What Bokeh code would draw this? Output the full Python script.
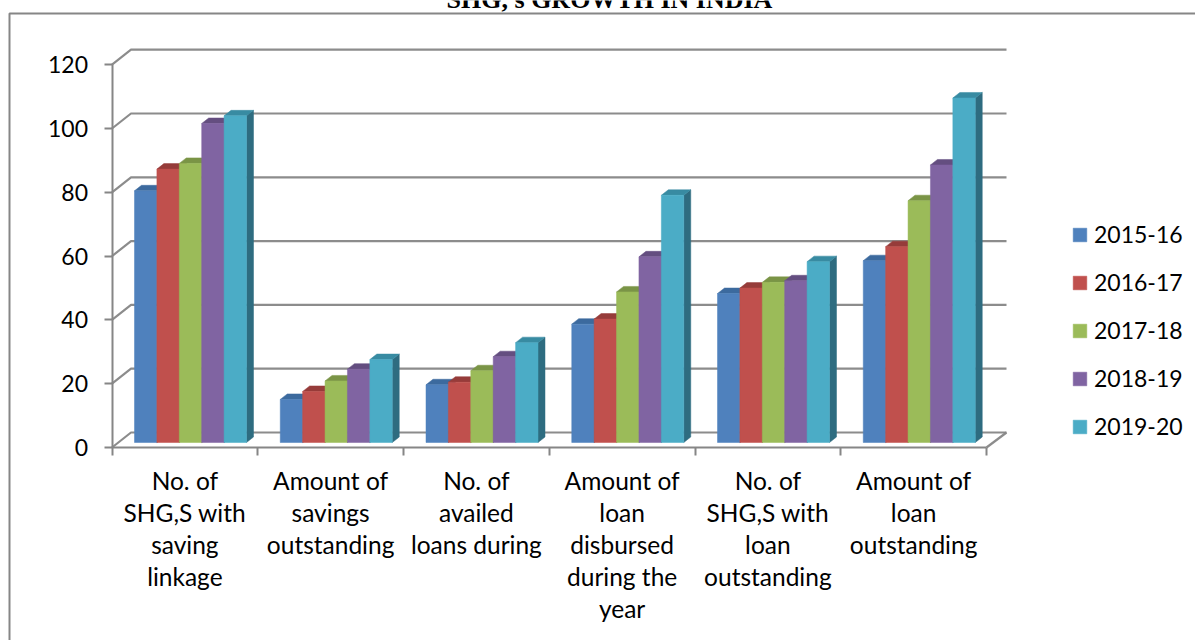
from bokeh.plotting import figure
from bokeh.embed import file_html
from bokeh.resources import INLINE
from bokeh.models import (FixedTicker, Legend, LegendItem, Label,
                          BoxAnnotation, Range1d, LinearAxis)

categories = ["No. of\nSHG,S with\nsaving\nlinkage", "Amount of\nsavings\noutstanding",
              "No. of\navailed\nloans during", "Amount of\nloan\ndisbursed\nduring the\nyear",
              "No. of\nSHG,S with\nloan\noutstanding", "Amount of\nloan\noutstanding"]
y_ticks = [0, 20, 40, 60, 80, 100, 120]
s2015 = [78.9, 13.5, 18.1, 37.1, 46.7, 57.0]
s2016 = [85.7, 16.0, 18.9, 38.7, 48.4, 61.4]
s2017 = [87.5, 19.3, 22.5, 47.2, 50.2, 75.8]
s2018 = [100.0, 23.0, 26.9, 58.2, 50.7, 87.0]
s2019 = [102.4, 26.0, 31.3, 77.5, 56.7, 108.0]
series = [("2015-16", s2015, "#4F81BD", "#3C6A9E", "#2F5A88"),
          ("2016-17", s2016, "#C0504D", "#963C3A", "#80302E"),
          ("2017-18", s2017, "#9BBB59", "#7A9446", "#667C3A"),
          ("2018-19", s2018, "#8064A2", "#644E80", "#52406A"),
          ("2019-20", s2019, "#4BACC6", "#388BA2", "#2E6C80")]

W, H = 1195, 640
X0, Y0 = 111.5, 447                      # canvas pixel of the axes' origin
PX = 145.75                              # pixels per category
PY = 3.19                                # pixels per value unit
GRAY = "#868686"
FONT = "Lato"
FS = "24.5px"

p = figure(width=W, height=H, output_backend="svg", toolbar_location=None,
           x_range=Range1d(-X0 / PX, (W - X0) / PX), y_range=Range1d(-(H - Y0) / PY, Y0 / PY),
           x_axis_type=None, y_axis_type=None,
           min_border=0, outline_line_color=None, background_fill_color="white",
           border_fill_color="white")
p.grid.visible = False

# axes
ya = LinearAxis(fixed_location=0)
ya.ticker = FixedTicker(ticks=y_ticks)
ya.bounds = (0, 120)
ya.axis_line_color = GRAY; ya.axis_line_width = 2
ya.major_tick_line_color = GRAY; ya.major_tick_line_width = 2
ya.major_tick_out = 8; ya.major_tick_in = 0
ya.minor_tick_line_color = None
ya.major_label_text_font = FONT; ya.major_label_text_font_size = "23px"
ya.major_label_text_color = "black"; ya.major_label_standoff = 16
p.add_layout(ya, "left")

xa = LinearAxis(fixed_location=0)
centers = [i + 0.5 for i in range(len(categories))]
xa.ticker = FixedTicker(ticks=centers, minor_ticks=list(range(len(categories) + 1)))
xa.major_label_overrides = {c: t for c, t in zip(centers, categories)}
xa.bounds = (0, len(categories))
xa.axis_line_color = GRAY; xa.axis_line_width = 2
xa.major_tick_line_color = None
xa.minor_tick_line_color = GRAY; xa.minor_tick_line_width = 2
xa.minor_tick_out = 8; xa.minor_tick_in = 0
xa.major_label_text_font = FONT; xa.major_label_text_font_size = FS
xa.major_label_text_color = "black"; xa.major_label_standoff = 10
xa.major_label_text_line_height = 1.105
xa.major_label_orientation = "horizontal"
p.add_layout(xa, "below")

# back wall / depth
wall_dx, wall_dy = 19 / PX, 15 / PY
x_back_end = 6 + 20 / PX
gx, gy = [], []
for v in y_ticks:
    gx.append([0, wall_dx, x_back_end]); gy.append([v, v + wall_dy, v + wall_dy])
gx.append([6, x_back_end]); gy.append([0, wall_dy])
p.multi_line(gx, gy, line_color=GRAY, line_width=2.2, line_alpha=0.95)

# 3-D bars
bar_left, bar_w = 22.5 / PX, 22.4 / PX
base = 5 / PY
dep_x, dep_y = 7 / PX, 5.5 / PY
items = []
for k, (name, vals, col, top_col, side_col) in enumerate(series):
    lefts = [i + bar_left + k * bar_w for i in range(len(vals))]
    rights = [l + bar_w for l in lefts]
    tops = [base + v for v in vals]
    side_xs = [[r, r + dep_x, r + dep_x, r] for r in rights]
    side_ys = [[base, base + dep_y, t + dep_y, t] for t in tops]
    top_xs = [[l, l + dep_x, r + dep_x, r] for l, r in zip(lefts, rights)]
    top_ys = [[t, t + dep_y, t + dep_y, t] for t in tops]
    p.patches(side_xs, side_ys, fill_color=side_col, line_color=side_col, line_width=0.5)
    p.patches(top_xs, top_ys, fill_color=top_col, line_color=top_col, line_width=0.5)
    r = p.quad(left=lefts, right=rights, bottom=[base] * len(vals), top=tops,
               fill_color=col, line_color=col, line_width=0.5)
    items.append(LegendItem(label=name, renderers=[r]))

legend = Legend(items=items, location=(1071, 200), orientation="vertical",
                border_line_color=None, background_fill_alpha=0,
                glyph_width=17, glyph_height=17, label_text_font=FONT,
                label_text_font_size="23px", label_text_color="black",
                label_standoff=6, spacing=20, padding=0, margin=0, label_height=22)
p.add_layout(legend)

# chart-area outline and clipped title
p.add_layout(BoxAnnotation(left=9, right=W + 10, top=13, bottom=H + 10,
                           left_units="canvas", right_units="canvas",
                           top_units="canvas", bottom_units="canvas",
                           fill_alpha=0, line_color=GRAY, line_alpha=1, line_width=2, level="overlay"))
p.add_layout(Label(x=609, y=-1, x_units="canvas", y_units="canvas", text="SHG, s GROWTH IN INDIA",
                   text_font="Liberation Serif", text_font_style="bold", text_font_size="26px",
                   text_align="center", text_baseline="alphabetic", text_color="black"))

open("out.html", "w").write(file_html(p, INLINE))
